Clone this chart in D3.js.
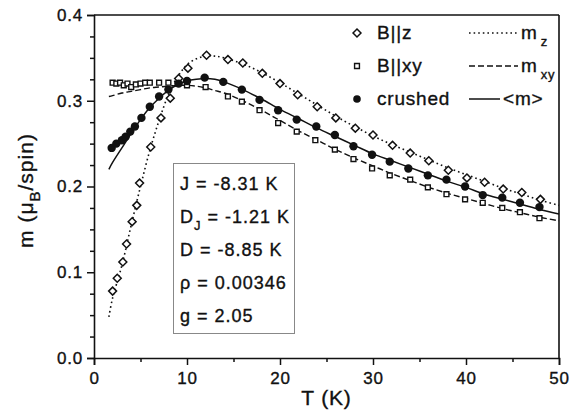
<!DOCTYPE html>
<meta charset="utf-8">
<script src="https://cdn.jsdelivr.net/npm/d3@7"></script>
<style>
body { margin: 0; background: #fff; }
text { font-family: "Liberation Sans", Arial, sans-serif; fill: #111; stroke: #111; stroke-width: 0.35px; }
</style>
<div id="chart"></div>
<script>
// B||z (open diamonds)
const zT = [2, 2.5, 3.1, 3.5, 4.1, 4.6, 4.9, 6.1, 7.2, 8.2, 9.1, 10.1, 12.1, 14.4, 16, 18.1, 20, 21.9, 24, 26, 28.1, 30, 32.1, 34, 36, 38.1, 40.1, 42, 44, 46, 48];
const zM = [.078, .093, .112, .133, .159, .178, .204, .246, .280, .303, .326, .338, .353, .348, .344, .332, .320, .307, .293, .280, .268, .260, .248, .239, .230, .219, .210, .205, .197, .193, .185];

// B||xy (open squares)
const xyT = [2, 2.4, 2.8, 3.2, 3.6, 4, 4.5, 5, 5.5, 6, 7, 8, 9, 10, 12, 14.4, 15.9, 17.8, 19.8, 21.8, 23.8, 25.9, 27.9, 29.9, 31.8, 34, 35.9, 37.9, 39.9, 41.8, 43.9, 45.8, 47.9];
const xyM = [.321, .320, .321, .318, .320, .316, .319, .320, .321, .321, .321, .321, .320, .318, .316, .305, .299, .289, .274, .264, .254, .243, .232, .221, .213, .208, .199, .191, .185, .181, .175, .170, .163];

// crushed (filled circles)
const cT = [1.9, 2.4, 3.0, 3.4, 3.9, 4.4, 5.1, 6.0, 7.0, 8.0, 9.1, 10, 11.9, 13.9, 15.9, 17.8, 19.8, 21.8, 23.9, 25.9, 27.9, 29.9, 31.8, 33.8, 35.9, 37.9, 39.9, 41.8, 43.9, 45.8, 47.9];
const cM = [.245, .250, .254, .258, .264, .270, .280, .293, .305, .313, .320, .323, .327, .322, .313, .301, .289, .278, .270, .260, .247, .237, .229, .221, .213, .208, .200, .190, .187, .181, .176];

// model curves
const fitT = [1.6, 2, 3, 4, 5, 6, 7, 8, 9, 10, 11, 12, 13, 14, 16, 18, 20, 22, 24, 26, 28, 30, 32, 34, 36, 38, 40, 42, 44, 46, 48, 50];
const mz   = [.048, .070, .108, .155, .200, .242, .277, .307, .328, .342, .349, .352, .352, .350, .343, .333, .321, .308, .295, .282, .270, .259, .249, .240, .231, .222, .214, .206, .198, .191, .184, .178];
const mxy  = [.305, .306, .309, .311, .313, .315, .316, .317, .318, .318, .317, .315, .312, .309, .300, .289, .277, .265, .254, .243, .233, .224, .215, .207, .199, .192, .186, .180, .174, .169, .164, .160];
const mavg = [.220, .228, .245, .262, .278, .292, .303, .312, .319, .323, .325, .326, .325, .322, .313, .302, .290, .279, .268, .258, .248, .238, .230, .222, .214, .206, .199, .191, .185, .179, .173, .168];

const xTicks = [0, 10, 20, 30, 40, 50];
const yTicks = [0.0, 0.1, 0.2, 0.3, 0.4];
const params = ["J = -8.31 K", "D_J = -1.21 K", "D = -8.85 K", "ρ = 0.00346", "g = 2.05"];

const W = 571, H = 411;
const margin = {top: 15, right: 12, bottom: 53, left: 94};
const width = W - margin.left - margin.right,
      height = H - margin.top - margin.bottom;

const svg = d3.select("#chart").append("svg")
    .attr("width", W).attr("height", H);
const g = svg.append("g")
    .attr("transform", `translate(${margin.left},${margin.top})`);

const x = d3.scaleLinear().domain([0, 50]).range([0, width]);
const y = d3.scaleLinear().domain([0, 0.4]).range([height, 0]);

// minor ticks
g.append("g").attr("transform", `translate(0,${height})`)
  .call(d3.axisBottom(x).tickValues(d3.range(5, 50, 10)).tickSize(4).tickFormat(""))
  .call(a => a.select(".domain").remove());
g.append("g")
  .call(d3.axisLeft(y).tickValues(d3.range(0.025, 0.4, 0.025).filter((v, i) => (i + 1) % 4)).tickSize(4).tickFormat(""))
  .call(a => a.select(".domain").remove());

// major axes
const xa = g.append("g").attr("transform", `translate(0,${height})`)
  .call(d3.axisBottom(x).tickValues(xTicks).tickSize(7).tickPadding(7).tickFormat(d3.format("d")));
const ya = g.append("g")
  .call(d3.axisLeft(y).tickValues(yTicks).tickSize(7).tickPadding(4).tickFormat(d3.format(".1f")));
[xa, ya].forEach(a => {
  a.selectAll("text").style("font-size", "17px").style("letter-spacing", "0.8px");
  a.selectAll("line, path").attr("stroke", "#111").attr("stroke-width", 1.6);
});
g.selectAll(".tick line").attr("stroke", "#111").attr("stroke-width", 1.5);

// top and right frame
g.append("line").attr("x1", 0).attr("x2", width).attr("y1", 0).attr("y2", 0)
  .attr("stroke", "#111").attr("stroke-width", 1.6);
g.append("line").attr("x1", width).attr("x2", width).attr("y1", 0).attr("y2", height)
  .attr("stroke", "#111").attr("stroke-width", 1.6);

// axis titles
svg.append("text").attr("x", margin.left + width / 2).attr("y", 405)
  .attr("text-anchor", "middle").style("font-size", "21px").style("letter-spacing", "0.8px").text("T (K)");
const yl = svg.append("text")
  .attr("transform", `translate(33,${margin.top + height / 2 + 4}) rotate(-90)`)
  .attr("text-anchor", "middle").style("font-size", "21px").style("letter-spacing", "1px");
yl.append("tspan").text("m  (μ");
yl.append("tspan").attr("dy", 7).style("font-size", "15px").text("B");
yl.append("tspan").attr("dy", -7).text("/spin)");

// curves
const line = vals => d3.line()
  .x((d, i) => x(fitT[i])).y(d => y(d))
  .curve(d3.curveCatmullRom)(vals);
g.append("path").attr("d", line(mz)).attr("fill", "none").attr("stroke", "#111")
  .attr("stroke-width", 1.6).attr("stroke-dasharray", "1.6,3");
g.append("path").attr("d", line(mxy)).attr("fill", "none").attr("stroke", "#111")
  .attr("stroke-width", 1.4).attr("stroke-dasharray", "6,3");
g.append("path").attr("d", line(mavg)).attr("fill", "none").attr("stroke", "#111")
  .attr("stroke-width", 1.5);

// markers
const diamond = d3.symbol().type(d3.symbolDiamond2).size(40);
const square = d3.symbol().type(d3.symbolSquare2).size(30);
g.selectAll(".sq").data(xyT).join("path").attr("class", "sq")
  .attr("transform", (d, i) => `translate(${x(d)},${y(xyM[i])})`)
  .attr("d", square).attr("fill", "#fff").attr("stroke", "#111").attr("stroke-width", 1.4);
g.selectAll(".dm").data(zT).join("path").attr("class", "dm")
  .attr("transform", (d, i) => `translate(${x(d)},${y(zM[i])})`)
  .attr("d", diamond).attr("fill", "#fff").attr("stroke", "#111").attr("stroke-width", 1.5);
g.selectAll(".ci").data(cT).join("circle").attr("class", "ci")
  .attr("cx", d => x(d)).attr("cy", (d, i) => y(cM[i]))
  .attr("r", 4.2).attr("fill", "#111");

// legend
const leg = svg.append("g");
const rows = [
  {mark: "dm", label: "B||z", dash: "1.6,3", name: "m", sub: "z"},
  {mark: "sq", label: "B||xy", dash: "6,3", name: "m", sub: "xy"},
  {mark: "ci", label: "crushed", dash: null, name: "<m>", sub: ""}
];
rows.forEach((r, i) => {
  const ry = 33 + i * 33;
  if (r.mark === "dm") leg.append("path").attr("transform", `translate(357,${ry})`).attr("d", diamond)
    .attr("fill", "#fff").attr("stroke", "#111").attr("stroke-width", 1.5);
  if (r.mark === "sq") leg.append("path").attr("transform", `translate(357,${ry})`).attr("d", square)
    .attr("fill", "#fff").attr("stroke", "#111").attr("stroke-width", 1.4);
  if (r.mark === "ci") leg.append("circle").attr("cx", 357).attr("cy", ry).attr("r", 3.8).attr("fill", "#111");
  leg.append("text").attr("x", 377).attr("y", ry + 6).style("font-size", "19px")
    .style("letter-spacing", "0.8px").text(r.label);
  const x2 = r.sub ? 518 : 500;
  leg.append("line").attr("x1", 469).attr("x2", x2).attr("y1", ry).attr("y2", ry)
    .attr("stroke", "#111").attr("stroke-width", r.dash ? 1.4 : 1.5).attr("stroke-dasharray", r.dash);
  const t = leg.append("text").attr("x", x2 + 3).attr("y", ry + 6).style("font-size", "19px")
    .style("letter-spacing", "0.8px");
  t.append("tspan").text(r.name);
  if (r.sub) t.append("tspan").attr("dx", 3).attr("dy", 7).style("font-size", "13px").text(r.sub);
});

// parameter box
const box = svg.append("g");
box.append("rect").attr("x", 173.5).attr("y", 163.5).attr("width", 121).attr("height", 170)
  .attr("fill", "#fff").attr("stroke", "#111").attr("stroke-width", 1).attr("stroke-dasharray", "1,1");
params.forEach((p, i) => {
  const t = box.append("text").attr("x", 180).attr("y", 190 + i * 33)
    .style("font-size", "18px").style("letter-spacing", "1px");
  if (p.startsWith("D_J")) {
    t.append("tspan").text("D");
    t.append("tspan").attr("dy", 7).style("font-size", "13px").text("J");
    t.append("tspan").attr("dy", -7).text(" = -1.21 K");
  } else t.text(p);
});
</script>
